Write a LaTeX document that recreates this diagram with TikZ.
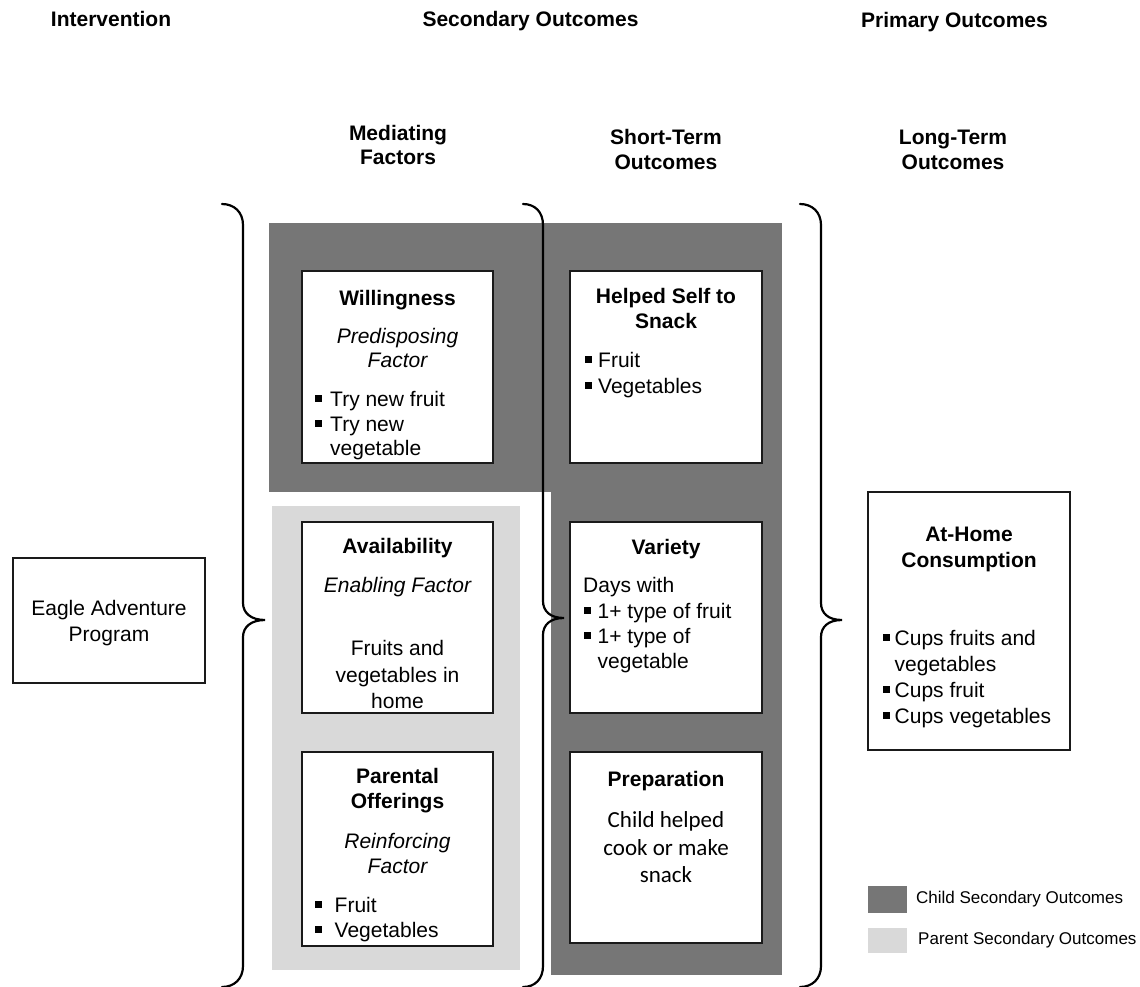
\documentclass[tikz,border=0pt]{standalone}
\usepackage{fontspec}
\setmainfont{Liberation Sans}
\newfontfamily\carl{Carlito}
\definecolor{darkg}{HTML}{767676}
\definecolor{lightg}{HTML}{D9D9D9}
\definecolor{edge}{HTML}{1A1A1A}
\newcommand\bsq{\rule[4.3pt]{6.5pt}{6.5pt}}
\begin{document}
\begin{tikzpicture}[x=1pt,y=-1pt,
  box/.style={draw=edge, line width=1.3pt, fill=white, inner sep=0pt},
  bracepath/.style={line width=2.2pt, line cap=round, draw=black},
  txt/.style={inner sep=0pt, anchor=base, font=\fontsize{21}{25}\selectfont},
  txtl/.style={txt, anchor=base west},
  ttl/.style={txt, font=\fontsize{21}{25}\selectfont\bfseries},
  itl/.style={txt, font=\fontsize{21}{25}\selectfont\itshape},
  cbx/.style={txt, font=\fontsize{23}{27}\selectfont\carl},
  lgd/.style={inner sep=0pt, anchor=base west, font=\fontsize{17}{20}\selectfont},
  swatch/.style={inner sep=0pt, minimum width=39pt}]
\useasboundingbox[fill=white] (0,0) rectangle (1140,987);

% shaded regions
\fill[darkg] (269,223) rectangle (782,492);
\fill[darkg] (551,492) rectangle (782,975);
\fill[lightg] (272,506) rectangle (520,970);

% headers
\node[ttl] (hInt) at (111,27) {Intervention};
\node[ttl] (hSec) at (530.5,27) {Secondary Outcomes};
\node[ttl] (hPri) at (954.5,28) {Primary Outcomes};
\node[ttl] (hMed1) at (398,141) {Mediating};
\node[ttl] (hMed2) at (398,165) {Factors};
\node[ttl] (hST1) at (666,145) {Short-Term};
\node[ttl] (hST2) at (666,170) {Outcomes};
\node[ttl] (hLT1) at (953,145) {Long-Term};
\node[ttl] (hLT2) at (953,170) {Outcomes};

% braces
\draw[bracepath] (222,204) .. controls (234,204) and (243,212) .. (243,225)
  -- (243,603) .. controls (243,613) and (251,620) .. (265,620)
  .. controls (251,620) and (243,627) .. (243,637)
  -- (243,966) .. controls (243,979) and (234,987) .. (222,987);
\draw[bracepath] (523,204) .. controls (535,204) and (543,212) .. (543,225)
  -- (543,601) .. controls (543,611) and (550,618) .. (564,618)
  .. controls (550,618) and (543,625) .. (543,635)
  -- (543,966) .. controls (543,979) and (535,987) .. (523,987);
\draw[bracepath] (800,204) .. controls (812,204) and (821,212) .. (821,225)
  -- (821,603) .. controls (821,613) and (828,620) .. (842,620)
  .. controls (828,620) and (821,627) .. (821,637)
  -- (821,966) .. controls (821,979) and (812,987) .. (800,987);

% boxes
\node[box, minimum width=192pt, minimum height=125pt] (eagle) at (109,620.5) {};
\node[box, minimum width=191pt, minimum height=192pt] (will) at (397.5,367) {};
\node[box, minimum width=192pt, minimum height=192pt] (help) at (666,367) {};
\node[box, minimum width=191pt, minimum height=191pt] (avail) at (397.5,617.5) {};
\node[box, minimum width=192pt, minimum height=191pt] (variety) at (666,617.5) {};
\node[box, minimum width=191pt, minimum height=194pt] (parent) at (397.5,849) {};
\node[box, minimum width=192pt, minimum height=191pt] (prep) at (666,847.5) {};
\node[box, minimum width=202pt, minimum height=258pt] (home) at (969,621) {};

% Eagle
\node[txt] (eagle1) at (109,615) {Eagle Adventure};
\node[txt] (eagle2) at (109,641) {Program};

% Willingness
\node[ttl] (will1) at (397.5,305) {Willingness};
\node[itl] (will2) at (397.5,343) {Predisposing};
\node[itl] (will3) at (397.5,367) {Factor};
\node[txtl] (will4) at (315,406) {\bsq\hspace{8.5pt}Try new fruit};
\node[txtl] (will5) at (315,431) {\bsq\hspace{8.5pt}Try new};
\node[txtl] (will6) at (330,455) {vegetable};

% Helped Self to Snack
\node[ttl] (help1) at (666,303) {Helped Self to};
\node[ttl] (help2) at (666,328) {Snack};
\node[txtl] (help3) at (585,367) {\bsq\hspace{6.5pt}Fruit};
\node[txtl] (help4) at (585,393) {\bsq\hspace{6.5pt}Vegetables};

% Availability
\node[ttl] (avail1) at (397.5,553) {Availability};
\node[itl] (avail2) at (397.5,592) {Enabling Factor};
\node[txt] (avail3) at (397.5,655) {Fruits and};
\node[txt] (avail4) at (397.5,682) {vegetables in};
\node[txt] (avail5) at (397.5,708) {home};

% Variety
\node[ttl] (var1) at (666,554) {Variety};
\node[txtl] (var2) at (583,592) {Days with};
\node[txtl] (var3) at (584,618) {\bsq\hspace{7pt}1+ type of fruit};
\node[txtl] (var4) at (584,643) {\bsq\hspace{7pt}1+ type of};
\node[txtl] (var5) at (597.5,668) {vegetable};

% Parental Offerings
\node[ttl] (par1) at (397.5,783) {Parental};
\node[ttl] (par2) at (397.5,808) {Offerings};
\node[itl] (par3) at (397.5,848) {Reinforcing};
\node[itl] (par4) at (397.5,873) {Factor};
\node[txtl] (par5) at (315,912) {\bsq\hspace{13pt}Fruit};
\node[txtl] (par6) at (315,937) {\bsq\hspace{13pt}Vegetables};

% Preparation
\node[ttl] (prep1) at (666,786) {Preparation};
\node[cbx] (prep2) at (666,827) {Child helped};
\node[cbx] (prep3) at (666,855) {cook or make};
\node[cbx] (prep4) at (666,882) {snack};

% At-Home Consumption
\node[ttl] (home1) at (969,541) {At-Home};
\node[ttl] (home2) at (969,567) {Consumption};
\node[txtl] (home3) at (883,645) {\bsq\hspace{5pt}Cups fruits and};
\node[txtl] (home4) at (894.5,671) {vegetables};
\node[txtl] (home5) at (883,697) {\bsq\hspace{5pt}Cups fruit};
\node[txtl] (home6) at (883,723) {\bsq\hspace{5pt}Cups vegetables};

% legend
\node[swatch, fill=darkg, minimum height=27pt] (lgC) at (887.5,899.5) {};
\node[swatch, fill=lightg, minimum height=25pt] (lgP) at (887.5,940.5) {};
\node[lgd] (lgCt) at (916,903) {Child Secondary Outcomes};
\node[lgd] (lgPt) at (918,944) {Parent Secondary Outcomes};
\end{tikzpicture}
\end{document}
